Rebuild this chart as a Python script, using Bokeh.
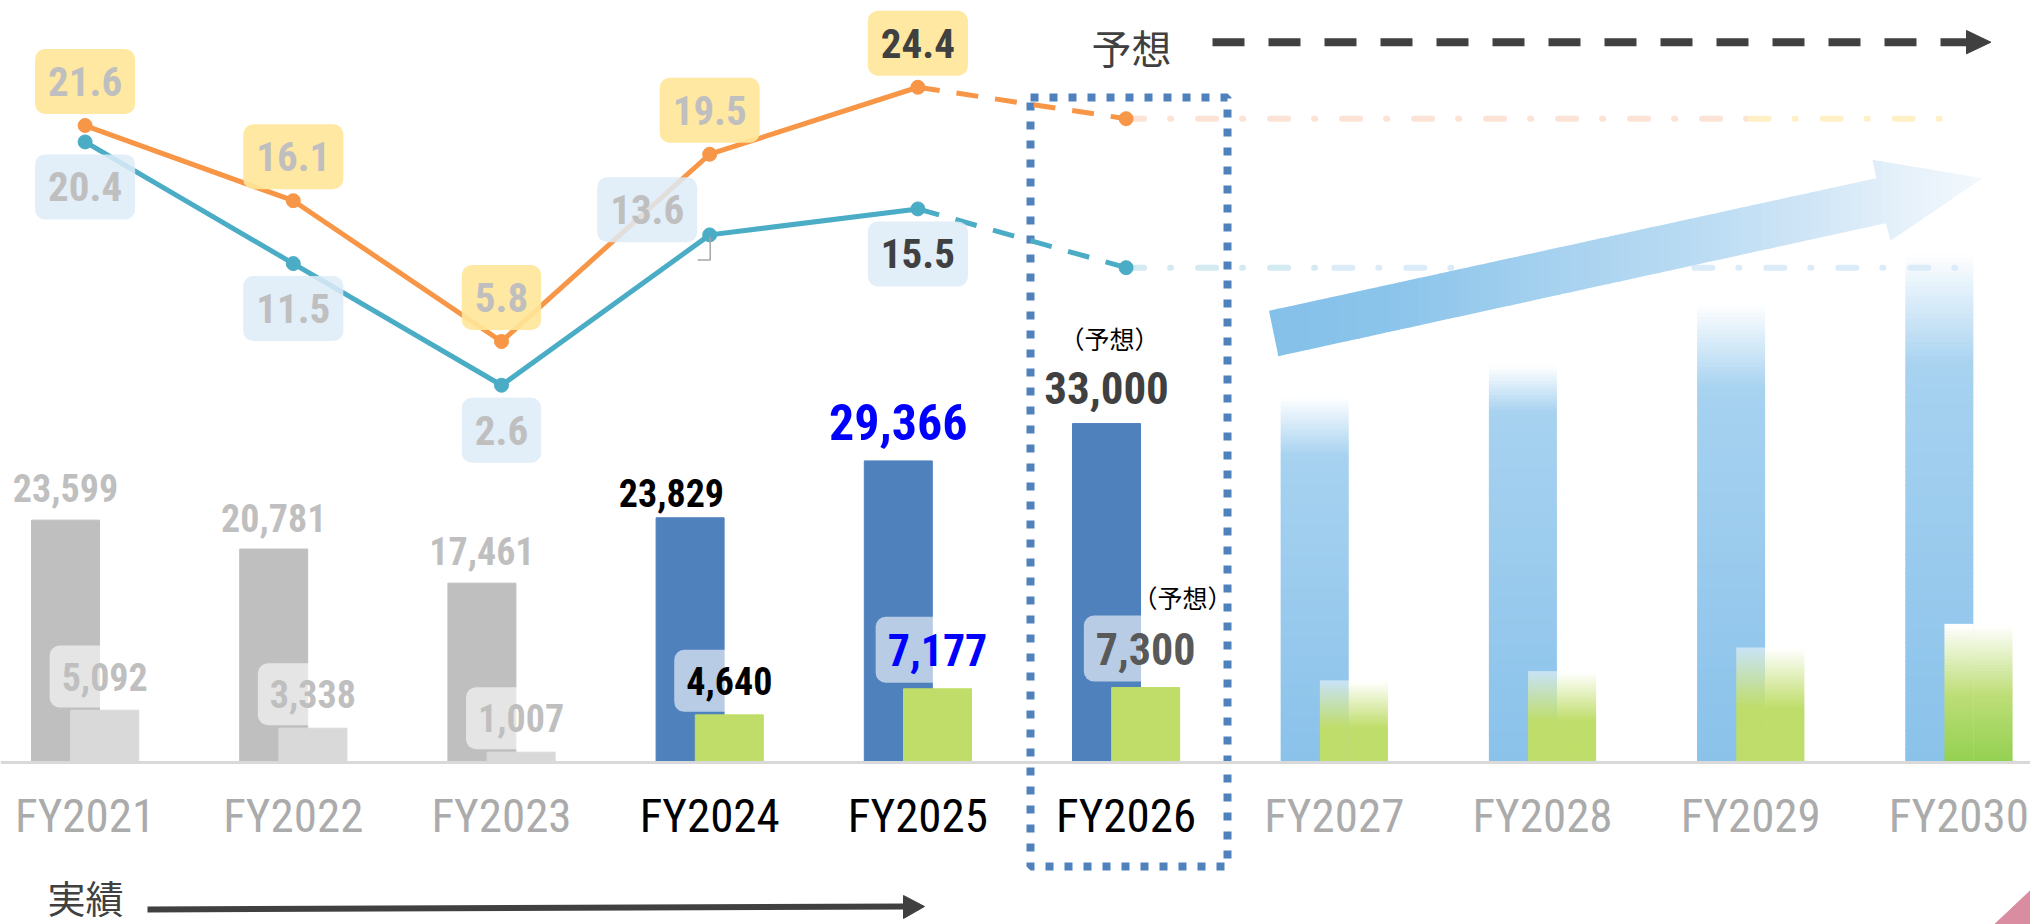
import numpy as np
from bokeh.plotting import figure
from bokeh.models import Range1d, ColumnDataSource, Label, Span
from bokeh.core.properties import value
from bokeh.embed import file_html
from bokeh.resources import INLINE

# ---------------- data ----------------
years = ["FY2021", "FY2022", "FY2023", "FY2024", "FY2025",
         "FY2026", "FY2027", "FY2028", "FY2029", "FY2030"]
sales = [23599, 20781, 17461, 23829, 29366, 33000]        # FY2021-FY2026 (FY2026 = forecast)
profit = [5092, 3338, 1007, 4640, 7177, 7300]
sales_vision = [35700, 38700, 44700, 49600]               # FY2027-FY2030, faded illustration
profit_vision = [8000, 8900, 11200, 13500]
rate_orange = [21.6, 16.1, 5.8, 19.5, 24.4, 22.1]         # % (FY2026 = forecast)
rate_blue = [20.4, 11.5, 2.6, 13.6, 15.5, 11.2]

# ---------------- layout helpers ----------------
W, H = 2030, 924
X_C0, X_STEP = 84.6, 208.2
BASE, UPP = 762.0, 97.37
PCT0, PPP = 420.3, 13.67


def gx(px):
    return (px - X_C0) / X_STEP


def gy(py):
    return (BASE - py) * UPP


def gp(py):
    return (PCT0 - py) / PPP


def dpx(n):
    return n / X_STEP


def dpy(n):
    return n * UPP


NUM = "Roboto Condensed"
JP = "Noto Sans CJK JP"


def rgb(h):
    h = h.lstrip("#")
    return np.array([int(h[k:k + 2], 16) for k in (0, 2, 4)], float)


def hexc(c):
    return "#%02x%02x%02x" % tuple(int(round(v)) for v in np.clip(c, 0, 255))


def mixc(a, b, t):
    return rgb(a) * (1 - t) + rgb(b) * t


def interp(stops, f):
    for (f0, c0), (f1, c1) in zip(stops[:-1], stops[1:]):
        if f0 <= f <= f1:
            t = 0 if f1 == f0 else (f - f0) / (f1 - f0)
            return hexc(rgb(c0) * (1 - t) + rgb(c1) * t)
    return stops[-1][1]


p = figure(width=W, height=H, x_range=Range1d(gx(0), gx(W)),
           y_range=Range1d(gy(H), gy(0)),
           output_backend="svg", toolbar_location=None, min_border=0,
           x_axis_location=None, y_axis_location=None, outline_line_color=None)
p.extra_y_ranges = {"pct": Range1d(gp(H), gp(0))}
p.grid.grid_line_color = None
p.background_fill_color = "white"
p.border_fill_color = "white"

BO = 19.6 / X_STEP
BW = 68.0 / X_STEP

# ---------------- faded vision bars FY2027-2030 (opaque, pre-blended slices) ----------------
blue_solid = [0.84, 0.884, 0.817, 0.78]
green_solid = [0.43, 0.46, 0.48]
WHITE = np.array([255.0, 255.0, 255.0])


def blue_rgb(j, f):
    s = blue_solid[j]
    if f < s:
        return mixc("#8AC2EA", "#A7D2F0", f / s)
    a = max(0.0, 1 - (f - s) / (1 - s))
    return WHITE * (1 - a) + rgb("#A7D2F0") * a


def green_rgb(j, f, bg):
    if j < 3:
        s = green_solid[j]
        c1 = bg * 0.5 + WHITE * 0.5
        g = 1.0 if f < s else max(0.0, 1 - (f - s) / (1 - s))
        return c1 * (1 - g) + rgb("#BFDD6A") * g
    a1 = 1.0 if f < 0.5 else max(0.0, 1 - (f - 0.5) / 0.5)
    c = WHITE * (1 - a1) + rgb("#BEDE78") * a1
    a2 = max(0.0, 1 - f / 0.5)
    return c * (1 - a2) + rgb("#92D050") * a2


qb = dict(l=[], r=[], b=[], t=[], c=[])
qg = dict(l=[], r=[], b=[], t=[], c=[])


def add_quad(Q, xl, xr, b, t, c):
    Q["l"].append(xl); Q["r"].append(xr); Q["b"].append(b); Q["t"].append(t)
    Q["c"].append(hexc(c))


OV = dpy(1.0)
for j, (sv, pv) in enumerate(zip(sales_vision, profit_vision)):
    xc = len(sales) + j
    bl, br = xc - BO - BW / 2, xc - BO + BW / 2
    gl, gr = xc + BO - BW / 2, xc + BO + BW / 2
    NB = 110
    e = np.linspace(0, sv, NB + 1)
    for k in range(NB):
        add_quad(qb, bl, br, max(0, e[k] - OV), e[k + 1], blue_rgb(j, (k + 0.5) / NB))
    NG = 45
    e = np.linspace(0, pv, NG + 1)
    for k in range(NG):
        f = (k + 0.5) / NG
        ym = (e[k] + e[k + 1]) / 2
        bg = blue_rgb(j, ym / sv)
        add_quad(qg, gl, br, max(0, e[k] - OV), e[k + 1], green_rgb(j, f, bg))
        add_quad(qg, br, gr, max(0, e[k] - OV), e[k + 1], green_rgb(j, f, WHITE))

p.quad(left="l", right="r", bottom="b", top="t", fill_color="c", line_color=None,
       source=ColumnDataSource(qb))

# ---------------- actual bars ----------------
idx = np.arange(len(sales))
sales_cols = ["#BFBFBF"] * 3 + ["#4F81BD"] * 3
profit_cols = ["#D9D9D9"] * 3 + ["#BFDD68"] * 3
bars = ColumnDataSource(dict(xs=idx - BO, xg=idx + BO, s=sales, g=profit,
                             cs=sales_cols, cg=profit_cols))
p.vbar(x="xs", top="s", bottom=0, width=BW, color="cs", source=bars)
p.vbar(x="xg", top="g", bottom=0, width=BW, color="cg", source=bars)

p.quad(left="l", right="r", bottom="b", top="t", fill_color="c", line_color=None,
       source=ColumnDataSource(qg))

# ---------------- forecast frame ----------------
p.line([gx(1030), gx(1227), gx(1227), gx(1030), gx(1030)],
       [gy(97), gy(97), gy(866), gy(866), gy(97)],
       line_color="#4F81BD", line_width=8, line_dash="8 11")

# ---------------- flat extensions of the forecast ratios ----------------
last = len(rate_orange) - 1
ext = dict(line_width=6, line_dash="18 26 1 27", line_cap="round", y_range_name="pct")
p.line([last, 8], [rate_orange[last]] * 2, line_color="#FCE3D5", **ext)
p.line([8, 9], [rate_orange[last]] * 2, line_color="#FFF0C6", **ext)
p.line([last, 6], [rate_blue[last]] * 2, line_color="#D3EBF0", **ext)
p.line([6, 9], [rate_blue[last]] * 2, line_color="#DCEBF8", **ext)

# ---------------- big gradient arrow ----------------
arrow = [(1268.5, 310.3), (1875.8, 177.7), (1872, 159.3), (1982, 177.7),
         (1890, 240.3), (1885.3, 222.7), (1277.9, 355.7)]
astops = [(1268, "#84C0E9"), (1400, "#8CC5EB"), (1553, "#A6D1EF"),
          (1694, "#B9DBF3"), (1807, "#CFE5F6"), (1906, "#E6F1FA"), (1982, "#F3F8FD")]


def clip(pts, keep, xc):
    out = []
    for k in range(len(pts)):
        cur, prev = pts[k], pts[k - 1]
        if keep(cur):
            if not keep(prev):
                t = (xc - prev[0]) / (cur[0] - prev[0])
                out.append((xc, prev[1] + t * (cur[1] - prev[1])))
            out.append(cur)
        elif keep(prev):
            t = (xc - prev[0]) / (cur[0] - prev[0])
            out.append((xc, prev[1] + t * (cur[1] - prev[1])))
    return out


axs, ays, acs = [], [], []
xe = np.linspace(1268, 1982, 72)
for xa, xb in zip(xe[:-1], xe[1:]):
    poly = clip(arrow, lambda q, xa=xa: q[0] >= xa - 0.5, xa - 0.5)
    if poly:
        poly = clip(poly, lambda q, xb=xb: q[0] <= xb + 0.5, xb + 0.5)
    if len(poly) >= 3:
        axs.append([gx(q[0]) for q in poly])
        ays.append([gy(q[1]) for q in poly])
        acs.append(interp(astops, (xa + xb) / 2))
p.patches(axs, ays, fill_color=acs, line_color=None)

# ---------------- ratio lines ----------------
xi = list(range(len(rate_orange)))
for vals, col in ((rate_orange, "#F79646"), (rate_blue, "#4BACC6")):
    p.line(xi[:last], vals[:last], line_color=col, line_width=5, y_range_name="pct")
    p.line(xi[last - 1:], vals[last - 1:], line_color=col, line_width=5,
           line_dash="22 17", y_range_name="pct")
    p.scatter(xi, vals, size=14, color=col, y_range_name="pct")

# small leader mark next to the FY2024 blue-line label
p.line([3 + dpx(0.5), 3 + dpx(0.5), 3 + dpx(-12)],
       [rate_blue[3] - 2 / PPP, rate_blue[3] - 25 / PPP, rate_blue[3] - 25 / PPP],
       line_color="#A6A6A6", line_width=1.5, y_range_name="pct")

# ---------------- arrows & decoration ----------------
p.line([gx(1212), gx(1966)], [gy(41.7)] * 2, line_color="#404040", line_width=8,
       line_dash="32 24")
p.patch([gx(1966), gx(1966), gx(1990.4)], [gy(30), gy(53.3), gy(41.7)], color="#404040")
p.line([gx(147), gx(904)], [gy(909), gy(906)], line_color="#404040", line_width=6)
p.patch([gx(903), gx(903), gx(924)], [gy(895), gy(918), gy(906)], color="#404040")
p.patch([gx(1994), gx(2030), gx(2030)], [gy(924), gy(890), gy(924)], color="#DA8CA1")

p.add_layout(Span(location=0, dimension="width", line_color="#D9D9D9", line_width=3))

# ---------------- category labels ----------------
fy_cols = ["#ABABAB"] * 3 + ["#000000"] * 3 + ["#ABABAB"] * 4
p.text(x="x", y="y", text="t", text_color="c",
       source=ColumnDataSource(dict(x=list(range(len(years))), y=[gy(815)] * len(years),
                                    t=years, c=fy_cols)),
       text_font=value(NUM), text_font_size="47px", text_align="center",
       text_baseline="middle")

# ---------------- sales value labels ----------------
top_dx = [0, 0, 0, -18.7, 0, 0]
top_gap = [32.5, 31.5, 31.7, 24.5, 39.4, 35.6]
top_size = ["38px"] * 4 + ["50px", "45px"]
top_col = ["#BFBFBF"] * 3 + ["#000000", "#0000FF", "#404040"]
p.text(x="x", y="y", text="t", text_color="c", text_font_size="s",
       source=ColumnDataSource(dict(
           x=[i - BO + dpx(d) for i, d in zip(idx, top_dx)],
           y=[v + dpy(g) for v, g in zip(sales, top_gap)],
           t=[f"{v:,}" for v in sales], c=top_col, s=top_size)),
       text_font=value(NUM), text_font_style="bold", text_align="center",
       text_baseline="middle")

# ---------------- profit value labels (boxed) ----------------
g_gap = [33.7, 34, 34, 34, 39, 39]
g_size = ["38px"] * 4 + ["44px", "44px"]
g_col = ["#BFBFBF"] * 3 + ["#000000", "#0000FF", "#595959"]
for i, v in enumerate(profit):
    p.add_layout(Label(x=i + BO, y=v + dpy(g_gap[i]), text=f"{v:,}",
                       text_font=NUM, text_font_style="bold", text_font_size=g_size[i],
                       text_color=g_col[i], text_align="center", text_baseline="middle",
                       background_fill_color="white", background_fill_alpha=0.6,
                       border_radius=10,
                       padding=dict(left=12, right=12, top=17, bottom=17)))

# ---------------- ratio labels (boxed) ----------------
r_col = ["#BFBFBF"] * 4 + ["#404040"]
for i in range(last):
    p.add_layout(Label(x=i, y=rate_orange[i] + 44 / PPP, y_range_name="pct",
                       text=f"{rate_orange[i]:.1f}", text_font=NUM, text_font_style="bold",
                       text_font_size="41px", text_color=r_col[i], text_align="center",
                       text_baseline="middle", background_fill_color="#FFE699",
                       background_fill_alpha=0.92, border_radius=10,
                       padding=dict(left=13, right=13, top=18, bottom=18)))
    dx_b, dy_b = (-62.5, -25.1) if i == 3 else (0, 45)
    p.add_layout(Label(x=i + dpx(dx_b), y=rate_blue[i] - dy_b / PPP, y_range_name="pct",
                       text=f"{rate_blue[i]:.1f}", text_font=NUM, text_font_style="bold",
                       text_font_size="41px", text_color=r_col[i], text_align="center",
                       text_baseline="middle", background_fill_color="#DDEBF7",
                       background_fill_alpha=0.85, border_radius=10,
                       padding=dict(left=13, right=13, top=18, bottom=18)))

# ---------------- Japanese annotations ----------------
jp = dict(text_font=JP, text_align="center", text_baseline="middle")
p.add_layout(Label(x=last + dpx(-16.6), y=sales[last] + dpy(86), text="（予想）",
                   text_font_size="25px", text_color="#000000", **jp))
p.add_layout(Label(x=last + dpx(56.4), y=profit[last] + dpy(91), text="（予想）",
                   text_font_size="25px", text_color="#000000", **jp))
p.add_layout(Label(x=gx(1131), y=gy(46), text="予想", text_font_size="40px",
                   text_color="#404040", **jp))
p.add_layout(Label(x=gx(85), y=gy(896), text="実績", text_font_size="38px",
                   text_color="#404040", **jp))

open("out.html", "w").write(file_html(p, INLINE))
